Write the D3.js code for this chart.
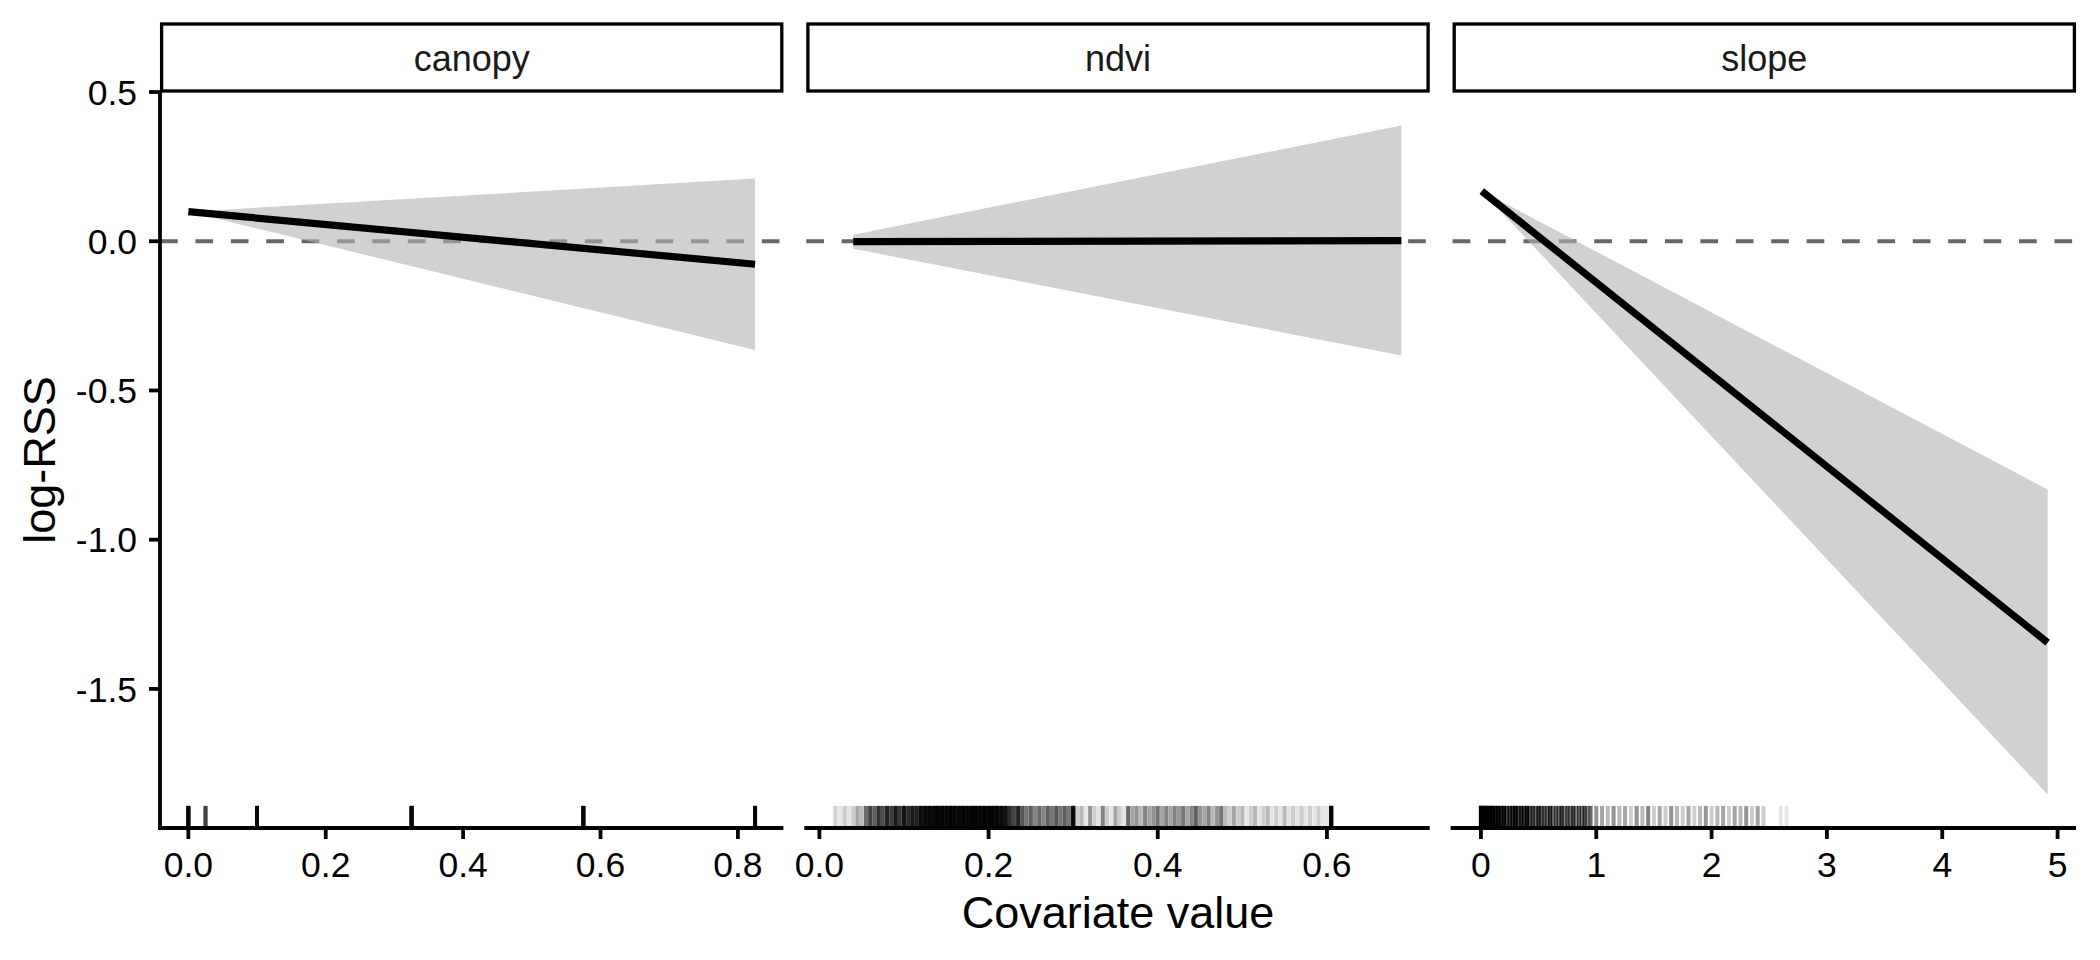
<html>
  <head>
    <meta http-equiv="Content-Type" content="text/html; charset=UTF-8" />
    <title>log-RSS by covariate</title>
    <script src="https://d3js.org/d3.v7.min.js"></script>
    <style>
      body { margin: 0; background: #ffffff; }
      text { font-family: "Liberation Sans", Arial, sans-serif; }
    </style>
  </head>
  <body>
    <div id="chart"></div>
    <script type="text/javascript">
    // facet names, in panel order
    var facets = ["canopy", "ndvi", "slope"];

    // fitted log-RSS line and its ribbon (start and end of each covariate)
    var canopyX   = [0, 0.825];
    var canopyFit = [0.099, -0.077];
    var canopyLwr = [0.099, -0.364];
    var canopyUpr = [0.099, 0.21];

    var ndviX   = [0.04, 0.688];
    var ndviFit = [-0.001, 0.002];
    var ndviLwr = [-0.025, -0.383];
    var ndviUpr = [0.022, 0.388];

    var slopeX   = [0.007, 4.914];
    var slopeFit = [0.168, -1.345];
    var slopeLwr = [0.168, -1.854];
    var slopeUpr = [0.168, -0.832];

    // rug: observed covariate values and how many times each was seen
    var canopyRugX = [0, 0.025, 0.1, 0.325, 0.575, 0.825];
    var canopyRugN = [30, 12, 30, 30, 30, 30];

    var ndviRugX = [0.018, 0.02, 0.025, 0.03, 0.035, 0.04, 0.045, 0.05, 0.055, 0.06, 0.065, 0.07, 0.075, 0.08, 0.085, 0.09, 0.095,
      0.1, 0.105, 0.11, 0.115, 0.12, 0.125, 0.13, 0.135, 0.14, 0.145, 0.15, 0.155, 0.16, 0.165, 0.17, 0.175, 0.18, 0.185, 0.19, 0.195,
      0.2, 0.205, 0.21, 0.215, 0.22, 0.225, 0.23, 0.235, 0.24, 0.245, 0.25, 0.255, 0.26, 0.265, 0.27, 0.275, 0.28, 0.285, 0.29, 0.295,
      0.3, 0.305, 0.31, 0.315, 0.32, 0.325, 0.33, 0.335, 0.34, 0.345, 0.35, 0.355, 0.36, 0.365, 0.37, 0.375, 0.38, 0.385, 0.39, 0.395,
      0.4, 0.405, 0.41, 0.415, 0.42, 0.425, 0.43, 0.435, 0.44, 0.445, 0.45, 0.455, 0.46, 0.465, 0.47, 0.475, 0.48, 0.485, 0.49, 0.495,
      0.5, 0.505, 0.51, 0.515, 0.52, 0.525, 0.53, 0.535, 0.54, 0.545, 0.55, 0.555, 0.56, 0.565, 0.57, 0.575, 0.58, 0.585, 0.59, 0.595,
      0.6, 0.605];
    var ndviRugN = [1, 1, 1, 2, 1, 2, 4, 3, 8, 12, 9, 15, 11, 18, 13, 20, 14,
      22, 16, 20, 18, 25, 28, 30, 28, 32, 30, 30, 32, 30, 28, 32, 30, 34, 32, 30, 34,
      32, 30, 30, 28, 24, 16, 12, 18, 10, 7, 9, 6, 8, 6, 9, 7, 10, 7, 9, 7,
      30, 2, 3, 1, 5, 2, 1, 6, 2, 1, 4, 2, 1, 8, 4, 5, 3, 6, 4, 5,
      7, 4, 6, 4, 6, 5, 7, 4, 6, 9, 5, 4, 6, 3, 5, 7, 3, 2, 4, 2,
      3, 1, 2, 3, 1, 2, 3, 1, 2, 1, 3, 1, 2, 1, 2, 1, 2, 1, 2, 1,
      1, 30];

    var slopeRugX = [0, 0.025, 0.05, 0.075, 0.1, 0.125, 0.15, 0.175, 0.2, 0.225, 0.25, 0.275, 0.3, 0.325, 0.35, 0.375, 0.4, 0.425,
      0.45, 0.475, 0.5, 0.525, 0.55, 0.575, 0.6, 0.625, 0.65, 0.675, 0.7, 0.725, 0.75, 0.775, 0.8, 0.825, 0.85, 0.875, 0.9, 0.925, 0.95,
      1.0, 1.05, 1.1, 1.15, 1.2, 1.25, 1.3, 1.35, 1.4, 1.45, 1.5, 1.55, 1.6, 1.65, 1.7, 1.75,
      1.8, 1.85, 1.9, 1.95, 2.0, 2.05, 2.1, 2.15, 2.2, 2.25, 2.3, 2.35, 2.4, 2.45, 2.6, 2.65];
    var slopeRugN = [40, 35, 35, 30, 30, 22, 25, 18, 20, 12, 14, 16, 22, 12, 16, 14, 20, 10,
      12, 8, 15, 9, 10, 8, 14, 7, 9, 8, 13, 6, 10, 7, 12, 6, 9, 7, 11, 5, 8,
      5, 4, 3, 5, 3, 4, 2, 5, 3, 6, 2, 4, 2, 5, 3, 2,
      4, 2, 3, 5, 2, 3, 4, 2, 4, 3, 5, 2, 4, 2, 1, 1];

    // axis ticks
    var yTicks = [-1.5, -1.0, -0.5, 0.0, 0.5];
    var canopyTicks = [0, 0.2, 0.4, 0.6, 0.8];
    var ndviTicks = [0, 0.2, 0.4, 0.6];
    var slopeTicks = [0, 1, 2, 3, 4, 5];

    var panels = [
      {name: facets[0], x: canopyX, fit: canopyFit, lwr: canopyLwr, upr: canopyUpr, rugX: canopyRugX, rugN: canopyRugN, ticks: canopyTicks, fmt: d3.format(".1f")},
      {name: facets[1], x: ndviX, fit: ndviFit, lwr: ndviLwr, upr: ndviUpr, rugX: ndviRugX, rugN: ndviRugN, ticks: ndviTicks, fmt: d3.format(".1f")},
      {name: facets[2], x: slopeX, fit: slopeFit, lwr: slopeLwr, upr: slopeUpr, rugX: slopeRugX, rugN: slopeRugN, ticks: slopeTicks, fmt: d3.format("d")}
    ];

    var width = 2100, height = 960;
    var plotLeft = 160, plotRight = 2076, plotTop = 92, plotBottom = 828;
    var gap = 22.9;
    var panelW = (plotRight - plotLeft - 2 * gap) / 3;
    var stripTop = 24;

    // ggplot style 5% expansion of a range
    function expand(lo, hi) {
      var d = (hi - lo) * 0.05;
      return [lo - d, hi + d];
    }

    var allY = d3.merge(panels.map(function(p) { return p.lwr.concat(p.upr, p.fit); }));
    var y = d3.scaleLinear()
      .domain(expand(d3.min(allY), d3.max(allY)))
      .range([plotBottom, plotTop]);

    var svg = d3.select("#chart").append("svg")
      .attr("width", width)
      .attr("height", height)
      .style("background", "#ffffff");

    panels.forEach(function(p, i) {
      var x0 = plotLeft + i * (panelW + gap);
      var xs = p.x.concat(p.rugX);
      var x = d3.scaleLinear()
        .domain(expand(d3.min(xs), d3.max(xs)))
        .range([x0, x0 + panelW]);

      var g = svg.append("g");

      // reference line at zero
      g.append("line")
        .attr("x1", x0).attr("x2", x0 + panelW)
        .attr("y1", y(0)).attr("y2", y(0))
        .attr("stroke", "#666666")
        .attr("stroke-width", 4.2)
        .attr("stroke-dasharray", "17.7 17.7");

      // confidence ribbon
      var rib = p.x.map(function(v, k) { return {x: v, lo: p.lwr[k], hi: p.upr[k]}; });
      g.append("path")
        .datum(rib)
        .attr("fill", "rgb(179,179,179)")
        .attr("fill-opacity", 0.6)
        .attr("d", d3.area()
          .x(function(d) { return x(d.x); })
          .y0(function(d) { return y(d.lo); })
          .y1(function(d) { return y(d.hi); }));

      // fitted line
      g.append("path")
        .datum(p.x.map(function(v, k) { return [v, p.fit[k]]; }))
        .attr("fill", "none")
        .attr("stroke", "#000000")
        .attr("stroke-width", 7.2)
        .attr("d", d3.line()
          .x(function(d) { return x(d[0]); })
          .y(function(d) { return y(d[1]); }));

      // rug, one tick per observation
      var rugData = [];
      p.rugX.forEach(function(v, k) {
        for (var n = 0; n < p.rugN[k]; n++) rugData.push(v);
      });
      g.selectAll(".rug")
        .data(rugData)
        .enter().append("line")
        .attr("x1", function(d) { return x(d); })
        .attr("x2", function(d) { return x(d); })
        .attr("y1", plotBottom)
        .attr("y2", plotBottom - (plotBottom - plotTop) * 0.03)
        .attr("stroke", "#000000")
        .attr("stroke-opacity", 0.1)
        .attr("stroke-width", 4);

      // x axis
      g.append("line")
        .attr("x1", x0 - 2).attr("x2", x0 + panelW)
        .attr("y1", plotBottom).attr("y2", plotBottom)
        .attr("stroke", "#000000")
        .attr("stroke-width", 3.8);
      g.selectAll(".xtick")
        .data(p.ticks)
        .enter().append("line")
        .attr("x1", function(d) { return x(d); })
        .attr("x2", function(d) { return x(d); })
        .attr("y1", plotBottom)
        .attr("y2", plotBottom + 11)
        .attr("stroke", "#000000")
        .attr("stroke-width", 3.8);
      g.selectAll(".xlab")
        .data(p.ticks)
        .enter().append("text")
        .attr("x", function(d) { return x(d); })
        .attr("y", 877)
        .attr("text-anchor", "middle")
        .attr("font-size", 35.5)
        .attr("fill", "#000000")
        .text(function(d) { return p.fmt(d); });

      // strip
      g.append("rect")
        .attr("x", x0 + 1.6)
        .attr("y", stripTop)
        .attr("width", panelW - 3.2)
        .attr("height", plotTop - stripTop - 1)
        .attr("fill", "#ffffff")
        .attr("stroke", "#000000")
        .attr("stroke-width", 3.3);
      g.append("text")
        .attr("x", x0 + panelW / 2)
        .attr("y", (stripTop + plotTop) / 2 + 12.5)
        .attr("text-anchor", "middle")
        .attr("font-size", 36)
        .attr("fill", "#1a1a1a")
        .text(p.name);
    });

    // y axis, first panel only
    svg.append("line")
      .attr("x1", plotLeft).attr("x2", plotLeft)
      .attr("y1", plotTop).attr("y2", plotBottom + 1.9)
      .attr("stroke", "#000000")
      .attr("stroke-width", 3.8);
    svg.selectAll(".ytick")
      .data(yTicks)
      .enter().append("line")
      .attr("x1", plotLeft - 11).attr("x2", plotLeft)
      .attr("y1", function(d) { return y(d); })
      .attr("y2", function(d) { return y(d); })
      .attr("stroke", "#000000")
      .attr("stroke-width", 3.8);
    svg.selectAll(".ylab")
      .data(yTicks)
      .enter().append("text")
      .attr("x", 137)
      .attr("y", function(d) { return y(d); })
      .attr("dy", "0.36em")
      .attr("text-anchor", "end")
      .attr("font-size", 35.5)
      .attr("fill", "#000000")
      .text(function(d) { return d3.format(".1f")(d).replace("\u2212", "-"); });

    // axis titles
    svg.append("text")
      .attr("x", (plotLeft + plotRight) / 2)
      .attr("y", 928)
      .attr("text-anchor", "middle")
      .attr("font-size", 45)
      .attr("fill", "#000000")
      .text("Covariate value");
    svg.append("text")
      .attr("transform", "translate(55," + (plotTop + plotBottom) / 2 + ") rotate(-90)")
      .attr("text-anchor", "middle")
      .attr("font-size", 45)
      .attr("fill", "#000000")
      .text("log-RSS");
    </script>
  </body>
</html>
